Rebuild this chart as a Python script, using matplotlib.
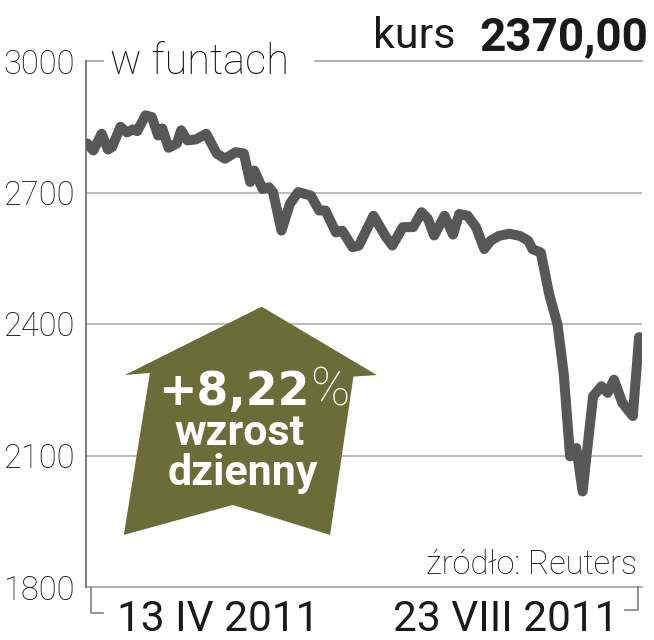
import matplotlib
matplotlib.use("Agg")
import matplotlib.pyplot as plt
from matplotlib.patches import Polygon

plt.rcParams['font.family'] = ['Roboto', 'DejaVu Sans']

# days since 13 IV 2011, price in GBP
days = [0, 1.5, 3.5, 5, 6, 8, 9.5, 11, 12, 14, 15.5, 17, 18, 19.5, 21.5, 22.5,
        24, 26, 28.5, 31, 33, 35.5, 37.5, 39, 40, 42, 43.5, 44.5, 46.5, 48.5,
        50.5, 53.5, 55.5, 57, 59.5, 61, 63.5, 65, 68.5, 71.5, 73, 75.5, 78, 80,
        81.5, 83, 85.5, 87.5, 89, 91, 93, 95, 96.5, 98.5, 101, 103.5, 105.5,
        106.5, 108.5, 110.5, 112.5, 114, 115.5, 117, 118.5, 121, 123, 124.5,
        126, 128, 130.5, 132]
prices = [2812, 2796, 2834, 2798, 2804, 2850, 2837, 2844, 2840, 2876, 2872,
          2830, 2846, 2802, 2812, 2842, 2819, 2821, 2834, 2789, 2777, 2792,
          2789, 2724, 2750, 2708, 2712, 2700, 2613, 2674, 2701, 2693, 2659,
          2659, 2609, 2613, 2575, 2579, 2647, 2598, 2579, 2621, 2621, 2655,
          2640, 2602, 2647, 2604, 2651, 2647, 2621, 2571, 2590, 2601, 2606,
          2601, 2590, 2571, 2563, 2468, 2399, 2285, 2098, 2117, 2018, 2235,
          2258, 2243, 2273, 2220, 2190, 2370]

yticks = [1800, 2100, 2400, 2700, 3000]
date_start = "13 IV 2011"
date_end = "23 VIII 2011"
unit = "w funtach"
last_price = "2370,00"
change = "+8,22"

grid_c = '#a8a8a8'
line_c = '#575757'
olive = '#6b6d39'

fig = plt.figure(figsize=(6.54, 6.40), dpi=100)
ax = fig.add_axes([86/654, 53/640, 556/654, 526/640])

ax.set_xlim(-0.25, 132.7)
ax.set_ylim(1800, 3000)

for v in [2100, 2400, 2700]:
    ax.axhline(v, color=grid_c, lw=1.1, zorder=1)
ax.axhline(1800, color=grid_c, lw=1.3, zorder=1, clip_on=False)
# top line with a gap for the unit label
ax.plot([0, 0.031], [1, 1], transform=ax.transAxes, color=grid_c, lw=1.3, clip_on=False)
ax.plot([0.412, 1], [1, 1], transform=ax.transAxes, color=grid_c, lw=1.3, clip_on=False)

for s in ['top', 'right', 'bottom']:
    ax.spines[s].set_visible(False)
ax.spines['left'].set_color('#666666')
ax.spines['left'].set_linewidth(1.2)

ax.set_xticks([])
ax.set_yticks(yticks)
ax.set_yticklabels([str(t) for t in yticks], fontsize=23.5, fontweight='light',
                   color='#111111')
ax.tick_params(axis='y', length=0, pad=8)

ax.plot(days, prices, color=line_c, lw=7.2, solid_joinstyle='round',
        solid_capstyle='round', zorder=3)

# arrow badge
arrow = Polygon([(0.316, 0.533), (0.523, 0.403), (0.481, 0.400), (0.439, 0.099),
                 (0.264, 0.156), (0.068, 0.099), (0.115, 0.407), (0.070, 0.403)],
                closed=True, transform=ax.transAxes, facecolor=olive,
                edgecolor='none', zorder=2)
ax.add_patch(arrow)
ax.text(0.403, 0.346, change, transform=ax.transAxes, ha='right', va='baseline',
        fontsize=33, fontweight='bold', color='white', family='DejaVu Sans', zorder=4)
ax.text(0.404, 0.346, "%", transform=ax.transAxes, ha='left', va='baseline',
        fontsize=38, fontweight='light', color='white', zorder=4)
ax.text(0.277, 0.270, "wzrost", transform=ax.transAxes, ha='center', va='baseline',
        fontsize=31, fontweight='bold', color='white', zorder=4)
ax.text(0.282, 0.194, "dzienny", transform=ax.transAxes, ha='center', va='baseline',
        fontsize=31, fontweight='bold', color='white', zorder=4)

# labels
ax.text(0.043, 0.975, unit, transform=ax.transAxes, ha='left', va='baseline',
        fontsize=30, fontweight='light', color='#111111')
ax.text(0.991, 0.0247, "źródło: Reuters", transform=ax.transAxes, ha='right',
        va='baseline', fontsize=23.5, fontweight='light', color='#111111')
ax.text(0.056, -0.084, date_start, transform=ax.transAxes, ha='left', va='baseline',
        fontsize=30.5, color='#1a1a1a')
ax.text(0.957, -0.084, date_end, transform=ax.transAxes, ha='right', va='baseline',
        fontsize=30.5, color='#1a1a1a')

# small brackets below the axis
ax.plot([0.009, 0.009, 0.031], [0, -0.049, -0.049], transform=ax.transAxes,
        color='#777777', lw=1.1, clip_on=False)
ax.plot([0.969, 0.993, 0.993], [-0.044, -0.044, 0], transform=ax.transAxes,
        color='#777777', lw=1.1, clip_on=False)

fig.text(455/654, (640-48)/640, "kurs", ha='right', va='baseline', fontsize=31,
         color='#1a1a1a')
fig.text(648/654, (640-50)/640, last_price, ha='right', va='baseline', fontsize=33,
         fontweight='bold', color='#1a1a1a')

fig.savefig("out.png", dpi=100)
